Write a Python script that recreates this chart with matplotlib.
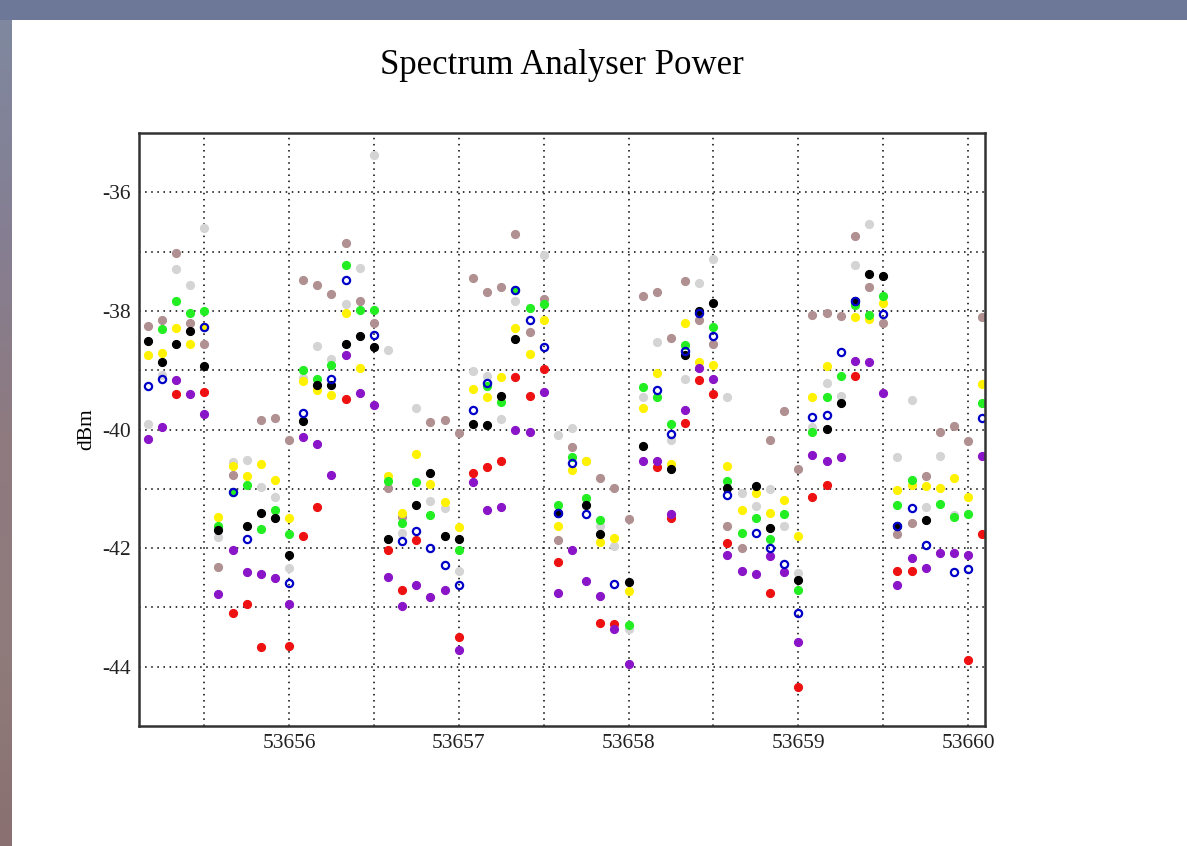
import matplotlib
matplotlib.use("Agg")
import matplotlib.pyplot as plt
import numpy as np
from matplotlib.colors import LinearSegmentedColormap

nan = np.nan

# MJD of each sample (every 2 hours)
mjd = [53655.167, 53655.250, 53655.333, 53655.417, 53655.500, 53655.583,
       53655.667, 53655.750, 53655.833, 53655.917, 53656.000, 53656.083,
       53656.167, 53656.250, 53656.333, 53656.417, 53656.500, 53656.583,
       53656.667, 53656.750, 53656.833, 53656.917, 53657.000, 53657.083,
       53657.167, 53657.250, 53657.333, 53657.417, 53657.500, 53657.583,
       53657.667, 53657.750, 53657.833, 53657.917, 53658.000, 53658.083,
       53658.167, 53658.250, 53658.333, 53658.417, 53658.500, 53658.583,
       53658.667, 53658.750, 53658.833, 53658.917, 53659.000, 53659.083,
       53659.167, 53659.250, 53659.333, 53659.417, 53659.500, 53659.583,
       53659.667, 53659.750, 53659.833, 53659.917, 53660.000, 53660.083]

p_black = [-38.50, -38.86, -38.55, -38.34, -38.93, -41.70, nan, -41.62, -41.41, -41.50, -42.11, -39.85,
           -39.25, -39.25, -38.56, -38.42, -38.61, -41.85, nan, -41.28, -40.73, -41.79, -41.85, -39.91,
           -39.93, -39.43, -38.47, nan, nan, -41.41, nan, -41.27, -41.76, nan, -42.57, -40.27,
           nan, -40.67, -38.75, -38.01, -37.86, -40.98, nan, -40.96, -41.66, nan, -42.54, nan,
           -39.99, -39.55, -37.84, -37.37, -37.41, -41.62, nan, -41.52, nan, nan, nan, nan]

p_red = [nan, nan, -39.40, nan, -39.36, nan, -43.09, -42.95, -43.67, nan, -43.65, -41.79,
         -41.31, nan, -39.49, nan, nan, -42.03, -42.70, -41.86, nan, nan, -43.50, -40.73,
         -40.64, -40.53, -39.11, -39.43, -38.98, -42.23, nan, nan, -43.26, -43.28, nan, nan,
         -40.64, -41.50, -39.89, -39.17, -39.40, -41.91, nan, nan, -42.75, nan, -44.34, -41.14,
         -40.94, nan, -39.10, nan, nan, -42.39, -42.39, nan, nan, nan, -43.88, -41.76]

p_green = [nan, -38.31, -37.84, -38.03, -38.00, -41.62, -41.05, -40.93, -41.68, -41.35, -41.77, -38.99,
           -39.14, -38.91, -37.22, -37.98, -37.98, -40.87, -41.57, -40.88, -41.44, nan, -42.03, nan,
           -39.26, -39.54, -37.65, -37.95, -37.89, -41.27, -40.47, -41.15, -41.53, nan, -43.29, -39.28,
           -39.46, -39.91, -38.57, nan, -38.27, -40.87, -41.74, -41.50, -41.85, -41.42, -42.71, -40.04,
           -39.46, -39.10, -37.90, -38.07, -37.75, -41.27, -40.85, nan, -41.26, -41.48, -41.43, -39.56]

p_blue = [-39.26, -39.14, nan, nan, -38.27, nan, -41.05, -41.85, nan, nan, -42.59, -39.72,
          nan, -39.14, -37.48, nan, -38.40, nan, -41.88, -41.71, -41.99, -42.29, -42.63, -39.67,
          -39.22, nan, -37.65, -38.16, -38.61, -41.41, -40.56, -41.42, nan, -42.61, nan, nan,
          -39.34, -40.08, -38.67, -38.04, -38.42, -41.10, nan, -41.74, -42.00, -42.27, -43.09, -39.79,
          -39.75, -38.69, -37.84, nan, -38.06, -41.62, -41.32, -41.94, nan, -42.40, -42.35, -39.81]

p_yellow = [-38.74, -38.71, -38.28, -38.55, -38.27, -41.48, -40.62, -40.79, -40.58, -40.85, -41.49, -39.19,
            -39.34, -39.42, -38.04, -38.97, nan, -40.78, -41.40, -40.41, -40.92, -41.23, -41.65, -39.31,
            -39.46, -39.11, -38.28, -38.73, -38.16, -41.62, -40.69, -40.53, -41.89, -41.83, -42.72, -39.63,
            -39.05, -40.59, -38.21, -38.87, -38.91, -40.61, -41.36, -41.07, -41.41, -41.19, -41.79, -39.45,
            -38.93, nan, -38.10, -38.13, -37.87, -41.02, -40.93, -40.96, -40.98, -40.81, -41.14, -39.23]

p_brown = [-38.25, -38.16, -37.02, -38.20, -38.55, -42.32, -40.76, nan, -39.84, -39.81, -40.17, -37.48,
           -37.56, -37.72, -36.86, -37.84, -38.20, -40.99, -41.48, nan, -39.87, -39.84, -40.06, -37.44,
           -37.68, -37.60, -36.70, -38.35, -37.80, -41.86, -40.29, nan, -40.82, -40.99, -41.51, -37.75,
           -37.68, -38.45, -37.49, -38.15, -38.55, -41.62, -42.00, nan, -40.18, -39.68, -40.66, -38.07,
           -38.03, -38.09, -36.73, -37.60, -38.21, -41.76, -41.57, -40.79, -40.04, -39.94, -40.20, -38.10]

p_gray = [-39.91, -39.08, -37.30, -37.56, -36.60, -41.82, -40.55, -40.52, -40.97, -41.14, -42.34, -39.13,
          -38.59, -38.81, -37.89, -37.27, -35.37, -38.66, -41.74, -39.63, -41.21, -41.32, -42.39, -39.02,
          -39.10, -39.82, -37.84, nan, -37.05, -40.10, -39.98, -40.53, -41.62, -41.96, -43.36, -39.45,
          -38.53, -40.17, -39.14, -37.53, -37.13, -39.45, -41.07, -41.29, -41.01, -41.62, -42.42, -39.95,
          -39.22, -39.43, -37.22, -36.54, -37.75, -40.47, -39.51, -41.31, -40.44, -41.44, nan, nan]

p_purple = [-40.16, -39.96, -39.17, -39.40, -39.74, -42.78, -42.03, -42.41, -42.44, -42.51, -42.95, -40.12,
            -40.25, -40.76, -38.74, -39.39, -39.58, -42.48, -42.98, -42.63, -42.82, -42.70, -43.71, -40.88,
            -41.36, -41.30, -40.01, -40.04, -39.37, -42.75, -42.03, -42.55, -42.80, -43.37, -43.96, -40.53,
            -40.53, -41.43, -39.67, -38.97, -39.14, -42.11, -42.39, -42.44, -42.14, -42.41, -43.59, -40.43,
            -40.53, -40.46, -38.84, -38.86, -39.39, -42.63, -42.17, -42.33, -42.08, -42.08, -42.12, -40.44]

xticks = [53656, 53657, 53658, 53659, 53660]
yticks = [-44, -42, -40, -38, -36]

fig = plt.figure(figsize=(11.87, 8.46), dpi=100)
fig.patch.set_facecolor("white")

# window-ish border: top bar and left strip
top = fig.add_axes([0, 1 - 20 / 846, 1, 20 / 846])
top.set_axis_off()
top.add_patch(plt.Rectangle((0, 0), 1, 1, color="#6d7898", transform=top.transAxes))
side = fig.add_axes([0, 0, 12 / 1187, 1 - 20 / 846])
grad = LinearSegmentedColormap.from_list("g", ["#7f889f", "#857f93", "#8e7a80", "#907c7c", "#8a7070"])
side.imshow(np.linspace(0, 1, 200).reshape(-1, 1), aspect="auto", cmap=grad)
side.set_axis_off()

plt.rcParams["font.family"] = ["Liberation Serif", "DejaVu Serif"]

ax = fig.add_axes([139 / 1187, 120 / 846, 846 / 1187, 593 / 846])

series = [(p_brown, "#b09090"),
          (p_gray, "#d4d4d4"),
          (p_yellow, "#fff200"),
          (p_green, "#22ee22"),
          (p_black, "#000000"),
          (p_red, "#ee1111"),
          (p_purple, "#8a14c8")]
for vals, col in series:
    ax.plot(mjd, vals, linestyle="none", marker="o", markersize=5.8,
            markerfacecolor=col, markeredgecolor=col, markeredgewidth=0.8)
# open blue circles on top
ax.plot(mjd, p_blue, linestyle="none", marker="o", markersize=5.2,
        markerfacecolor="none", markeredgecolor="#0000c8", markeredgewidth=1.6)

ax.set_xlim(53655.116, 53660.1)
ax.set_ylim(-45, -35)
ax.set_xticks(xticks)
ax.set_xticklabels([str(t) for t in xticks])
ax.set_xticks(np.arange(53655.5, 53660.1, 1.0), minor=True)
ax.set_yticks(yticks)
ax.set_yticklabels([str(t) for t in yticks])
ax.set_yticks([-43, -41, -39, -37], minor=True)
ax.grid(True, which="both", color="black", linestyle=(0, (1, 3)), linewidth=1.1)
ax.tick_params(which="both", length=0, labelsize=15.5, pad=6, colors="#222222")
for s in ax.spines.values():
    s.set_color("#333333")
    s.set_linewidth(1.8)

ax.set_ylabel("dBm", fontsize=15.5, labelpad=4)
fig.text(562 / 1187, 1 - 66 / 846, "Spectrum Analyser Power", fontsize=25,
         ha="center", va="center")

fig.savefig("out.png", dpi=100)
